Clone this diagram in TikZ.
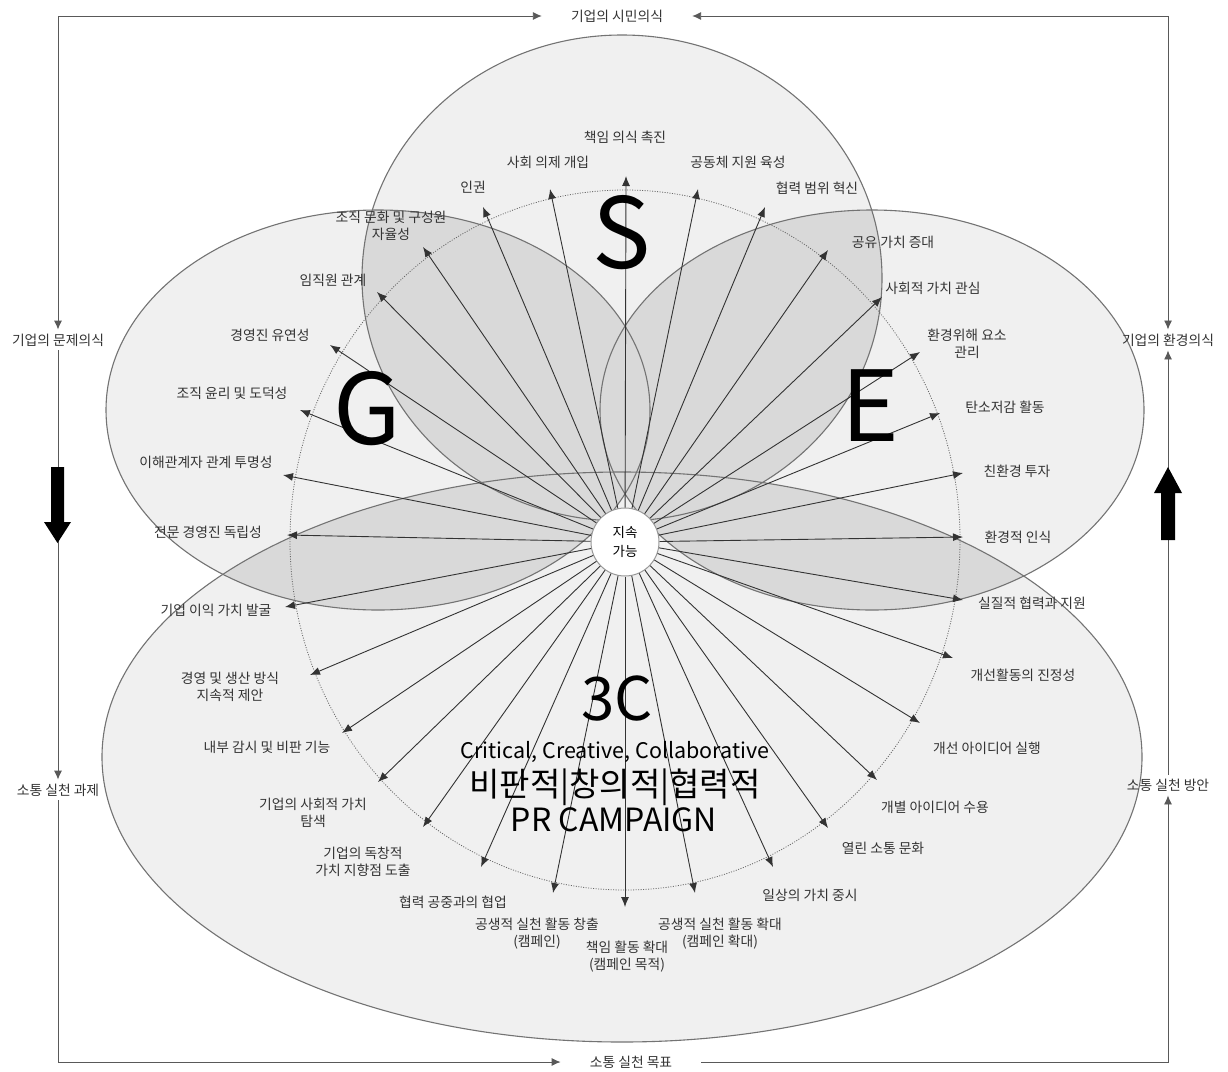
\documentclass[tikz,border=0pt]{standalone}
\usepackage{fontspec}
\setmainfont{Noto Sans CJK KR}
\usetikzlibrary{arrows.meta,positioning}

\begin{document}
\begin{tikzpicture}[
    x=1pt, y=-1pt,
    font=\fontsize{13.8}{17}\selectfont,
    ovS/.style={insert path={(622,278) ellipse [x radius=260pt, y radius=243pt]}},
    ovG/.style={insert path={(378,410) ellipse [x radius=272pt, y radius=200pt]}},
    ovE/.style={insert path={(872,410) ellipse [x radius=272pt, y radius=200pt]}},
    ovC/.style={insert path={(622,757) ellipse [x radius=520pt, y radius=285pt]}},
    oval/.style={draw=black!55, line width=1.1pt},
    lens/.style={fill=black!15},
    spoke/.style={-{Latex[length=10pt,width=8pt]}, draw=black!80, line width=0.9pt},
    frame/.style={draw=black!65, line width=0.9pt, >={Latex[length=9pt,width=8pt]}},
    lab/.style={text=black!80, align=center, inner sep=1pt},
    tag/.style={text=black!80, inner xsep=29pt, inner ysep=4pt},
    letter/.style={font=\fontsize{98}{98}\selectfont, anchor=base}
  ]
  \useasboundingbox (0,0) rectangle (1228,1071);

  % ovals
  \fill[black!6, ovC];
  \fill[black!6, ovG];
  \fill[black!6, ovE];
  \fill[black!6, ovS];
  \begin{scope} \clip[ovS]; \fill[lens, ovG]; \fill[lens, ovE]; \end{scope}
  \begin{scope} \clip[ovC]; \fill[lens, ovG]; \fill[lens, ovE]; \end{scope}
  \draw[oval, ovC];
  \draw[oval, ovG];
  \draw[oval, ovE];
  \draw[oval, ovS];
  \draw[black!60, line width=0.8pt, dash pattern=on 1pt off 1.5pt] (625,540) ellipse [x radius=335pt, y radius=350pt];

  \node[circle, draw=black!40, fill=white, line width=1pt, minimum size=68pt, inner sep=0pt, align=center, font=\fontsize{13.5}{19}\selectfont] (hub) at (625,542) {지속\\가능};

  % spokes
  \foreach \tx/\ty/\lx/\ly/\txt [count=\i] in {
      626/176/625/137/{책임 의식 촉진},
      550/189/548/162/{사회 의제 개입},
      698/189/738/162/{공동체 지원 육성},
      483/207/473/187/{인권},
      765/207/817/188/{협력 범위 혁신},
      423/247/391/226/{조직 문화 및 구성원\\자율성},
      377/292/333/280/{임직원 관계},
      330/345/270/335/{경영진 유연성},
      300/410/232/393/{조직 윤리 및 도덕성},
      283/475/206/462/{이해관계자 관계 투명성},
      287/535/208/532/{전문 경영진 독립성},
      285/607/216/610/{기업 이익 가치 발굴},
      310/675/230/687/{경영 및 생산 방식\\지속적 제안},
      342/733/267/747/{내부 감시 및 비판 기능},
      378/782/313/813/{기업의 사회적 가치\\탐색},
      423/827/363/862/{기업의 독창적\\가치 지향점 도출},
      481/867/453/902/{협력 공중과의 협업},
      553/893/537/934/{공생적 실천 활동 창출\\(캠페인)},
      625/907/627/957/{책임 활동 확대\\(캠페인 목적)},
      695/893/720/934/{공생적 실천 활동 확대\\(캠페인 확대)},
      773/867/810/895/{일상의 가치 중시},
      828/828/883/848/{열린 소통 문화},
      877/780/935/807/{개별 아이디어 수용},
      920/723/987/748/{개선 아이디어 실행},
      953/658/1023/675/{개선활동의 진정성},
      963/600/1032/603/{실질적 협력과 지원},
      963/537/1018/537/{환경적 인식},
      963/473/1017/471/{친환경 투자},
      940/413/1005/407/{탄소저감 활동},
      920/352/967/344/{환경위해 요소\\관리},
      882/297/933/288/{사회적 가치 관심},
      828/250/893/242/{공유 가치 증대}} {
    \coordinate (t\i) at (\tx,\ty);
    \node[lab] (l\i) at (\lx,\ly) {\txt};
    \draw[spoke] (hub) -- (t\i);
  }

  % letters
  \node[letter] (sS) at (622,268) {S};
  \node[letter] (sG) at (367,444) {G};
  \node[letter] (sE) at (870,441) {E};

  \node[font=\fontsize{60}{60}\selectfont, anchor=base] (threec) at (617,720) {3C};
  \node[font=\fontsize{21.5}{21.5}\selectfont, anchor=base] (crit) at (615,758) {Critical, Creative, Collaborative};
  \node[font=\fontsize{33}{33}\selectfont, anchor=base] (kor) at (615,796) {비판적|창의적|협력적};
  \node[font=\fontsize{32}{32}\selectfont, anchor=base] (pr) at (614,831) {PR CAMPAIGN};

  % frame
  \node[tag] (simin) at (617,16) {기업의 시민의식};
  \node[tag] (munje) at (58,340) {기업의 문제의식};
  \node[tag] (hwan) at (1168,340) {기업의 환경의식};
  \node[tag] (gwaje) at (58,790) {소통 실천 과제};
  \node[tag] (bangan) at (1168,785) {소통 실천 방안};
  \node[tag] (mokpyo) at (631,1062) {소통 실천 목표};

  \draw[frame, <->] (munje) |- (simin);
  \draw[frame, <->] (hwan) |- (simin);
  \draw[frame, ->] (munje) -- (gwaje);
  \draw[frame, ->] (bangan) -- (hwan);
  \draw[frame, ->] (gwaje) |- (mokpyo);
  \draw[frame, ->] (mokpyo) -| (bangan);

  \fill (51,467) -- (64,467) -- (64,522) -- (71,522) -- (57.5,543) -- (44,522) -- (51,522) -- cycle;
  \fill (1168,467) -- (1182,493) -- (1175,493) -- (1175,540) -- (1161,540) -- (1161,493) -- (1154,493) -- cycle;
\end{tikzpicture}
\end{document}
